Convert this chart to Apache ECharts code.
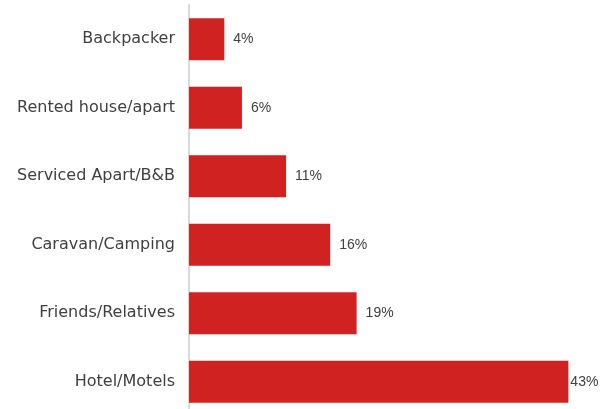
<!DOCTYPE html>
<html>
<head>
<meta charset="utf-8">
<script src="https://cdn.jsdelivr.net/npm/echarts@6/dist/echarts.min.js"></script>
<style>
  html, body { margin: 0; padding: 0; background: #ffffff; overflow: hidden; }
  /* the plot runs slightly past the bottom edge of the 409px view */
  #chart { width: 610px; height: 416px; }
</style>
</head>
<body>
<div id="chart"></div>
<script>
// Accommodation types, listed top to bottom
const categories = [
  'Backpacker',
  'Rented house/apart',
  'Serviced Apart/B&B',
  'Caravan/Camping',
  'Friends/Relatives',
  'Hotel/Motels'
];
// Share of respondents (%)
const shares = [4, 6, 11, 16, 19, 43];

const chart = echarts.init(document.getElementById('chart'), null, { renderer: 'canvas' });

// The widest bar keeps its label tight against the end so it fits the frame
const maxShare = Math.max(...shares);
const barData = shares.map(v => ({
  value: v,
  label: { distance: v === maxShare ? 2 : 9 }
}));

chart.setOption({
  animation: false,
  backgroundColor: '#ffffff',
  grid: { left: 189, right: 24, top: 5, bottom: 0, containLabel: false },
  xAxis: {
    type: 'value',
    min: 0,
    max: 45,
    show: false
  },
  yAxis: {
    type: 'category',
    data: categories,
    inverse: true,
    axisLine: { show: true, lineStyle: { color: '#d9d9d9', width: 2 } },
    axisTick: { show: false },
    axisLabel: {
      color: '#404040',
      fontFamily: 'DejaVu Sans',
      fontSize: 16,
      margin: 14
    },
    splitLine: { show: false }
  },
  series: [{
    type: 'bar',
    data: barData,
    barCategoryGap: '39%',
    itemStyle: { color: '#d12222' },
    label: {
      show: true,
      position: 'right',
      formatter: '{c}%',
      color: '#404040',
      fontFamily: 'Liberation Sans',
      fontSize: 14
    }
  }]
});
</script>
</body>
</html>
